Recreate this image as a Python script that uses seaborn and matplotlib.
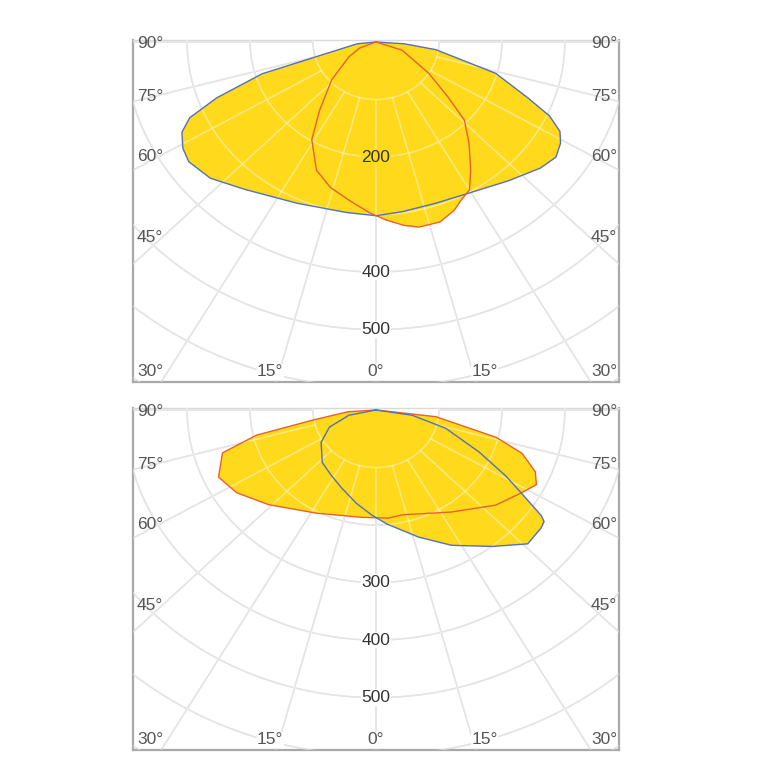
import numpy as np
import matplotlib
matplotlib.use('Agg')
import matplotlib.pyplot as plt
import seaborn as sns

# angles in degrees (0 = straight down, negative = left half), intensities in cd
top_blue_ang = [-90, -84, -76, -73, -69, -66, -63, -59, -55, -48, -39, -24, -9, 0,
                8, 19, 29, 41, 50, 55, 59, 62, 65, 68, 74, 82, 86, 90]
top_blue_cd = [0, 30, 77, 189, 271, 324, 346, 358, 363, 354, 330, 307, 300, 302,
               298, 296, 301, 320, 341, 349, 342, 331, 304, 261, 198, 96, 45, 0]

top_red_ang = [-90, -68, -59, -47, -37, -31, -23, -16, -9, -2, 3, 8, 12, 18,
               23, 26, 30, 34, 40, 46, 50, 57, 71, 90]
top_red_cd = [0, 28, 50, 96, 149, 198, 242, 263, 278, 297, 310, 322, 329, 329,
              318, 307, 297, 269, 230, 195, 150, 100, 44, 0]

bottom_red_ang = [-90, -86, -80, -77, -73, -65, -57, -46, -28, -7, 6, 13, 34, 49,
                  58, 63, 67, 72, 76, 83, 90]
bottom_red_cd = [0, 45, 103, 195, 255, 276, 264, 237, 203, 188, 189, 187, 214, 252,
                 272, 286, 275, 244, 197, 96, 0]

bottom_blue_ang = [-90, -78, -68, -57, -43, -32, -22, -11, -2, 5, 17, 27, 38, 46,
                   52, 54, 55, 58, 61, 66, 74, 81, 90]
bottom_blue_cd = [0, 44, 80, 104, 125, 134, 146, 165, 183, 199, 231, 264, 301, 335,
                  333, 330, 321, 272, 235, 179, 115, 58, 0]

top_ring_labels = [200, 400, 500]
bottom_ring_labels = [300, 400, 500]
side_labels = ['90°', '75°', '60°', '45°', '30°']
base_labels = ['15°', '0°', '15°']

YELLOW = '#FFD91C'
BLUE = '#5470B8'
RED = '#E8602C'
GRID = '#CFCFCF'
TXT = '#555555'

sns.set_style('white')
plt.rcParams['font.family'] = ['Liberation Sans', 'DejaVu Sans']


def to_xy(ang, cd):
    a = np.radians(np.asarray(ang, float))
    cd = np.asarray(cd, float)
    return cd * np.sin(a), -cd * np.cos(a)


def draw_grid(ax, color, alpha, zorder):
    t = np.linspace(-180, 180, 721)
    for r in range(100, 800, 100):
        x, y = to_xy(t, np.full_like(t, r))
        ax.plot(x, y, color=color, alpha=alpha, lw=1.1, zorder=zorder)
    for a in range(-90, 91, 15):
        x, y = to_xy([a, a], [100, 900])
        ax.plot(x, y, color=color, alpha=alpha, lw=1.1, zorder=zorder)


def draw_panel(ax, curves, ring_labels):
    # grey grid under the fill, pale grid on top of it
    draw_grid(ax, GRID, 1.0, 1)
    for ang, cd, col in curves:
        x, y = to_xy(ang, cd)
        ax.fill(x, y, color=YELLOW, lw=0, zorder=2)
    draw_grid(ax, 'white', 0.45, 3)
    for ang, cd, col in curves:
        x, y = to_xy(ang, cd)
        sns.lineplot(x=x, y=y, sort=False, estimator=None, color=col,
                     linewidth=1.0, ax=ax, zorder=5)

    centre_max = max(np.interp(0, ang, cd) for ang, cd, _ in curves)
    for r in ring_labels:
        bg = YELLOW if r < centre_max else 'white'
        ax.text(0, -r, str(r), ha='center', va='center', fontsize=12.5,
                color='#333333', zorder=6,
                bbox=dict(facecolor=bg, edgecolor='none', pad=0.5))

    # angle labels along the frame
    side_y = [0.99, 0.836, 0.66, 0.421, 0.03]
    for lab, yy in zip(side_labels, side_y):
        ax.text(0.008, yy, lab, transform=ax.transAxes, ha='left', va='center',
                fontsize=12.5, color=TXT, zorder=7, clip_on=False)
        ax.text(0.996, yy, lab, transform=ax.transAxes, ha='right', va='center',
                fontsize=12.5, color=TXT, zorder=7, clip_on=False)
    for lab, xx in zip(base_labels, [0.282, 0.5, 0.724]):
        ax.text(xx, 0.03, lab, transform=ax.transAxes, ha='center', va='center',
                fontsize=12.5, color=TXT, zorder=7,
                bbox=dict(facecolor='white', edgecolor='none', pad=0.3))

    ax.set_xlim(-386, 386)
    ax.set_ylim(-591, 3.5)
    ax.set_xticks([])
    ax.set_yticks([])
    ax.set_xlabel('')
    ax.set_ylabel('')
    for side in ['left', 'right', 'bottom']:
        ax.spines[side].set_color('#A8A8A8')
        ax.spines[side].set_linewidth(1.6)
    ax.spines['top'].set_color('#DADADA')
    ax.spines['top'].set_linewidth(1.0)


fig = plt.figure(figsize=(7.67, 7.67), dpi=100)
ax_top = fig.add_axes([0.1734, 0.5020, 0.6336, 0.4459])
ax_bot = fig.add_axes([0.1734, 0.0222, 0.6336, 0.4459])

draw_panel(ax_top, [(top_blue_ang, top_blue_cd, BLUE),
                    (top_red_ang, top_red_cd, RED)], top_ring_labels)
draw_panel(ax_bot, [(bottom_red_ang, bottom_red_cd, RED),
                    (bottom_blue_ang, bottom_blue_cd, BLUE)], bottom_ring_labels)

fig.savefig('out.png', dpi=100)
